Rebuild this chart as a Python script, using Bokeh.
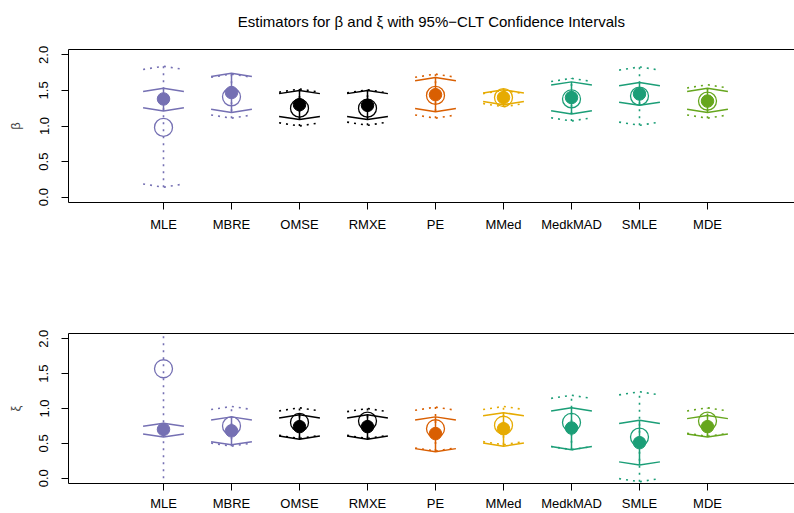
from bokeh.plotting import figure
from bokeh.models import Range1d, FixedTicker, LinearAxis, ColumnDataSource, NumeralTickFormatter
from bokeh.layouts import column
from bokeh.embed import file_html
from bokeh.resources import INLINE

# ---- data ----
estimators = ["MLE", "MBRE", "OMSE", "RMXE", "PE", "MMed", "MedkMAD", "SMLE", "MDE"]
positions = [1, 2, 3, 4, 5, 6, 7, 8, 9]

beta_est = [1.38, 1.47, 1.30, 1.29, 1.44, 1.40, 1.40, 1.45, 1.35]
beta_alt = [0.98, 1.41, 1.25, 1.25, 1.43, 1.40, 1.38, 1.42, 1.35]
beta_lo = [1.21, 1.19, 1.09, 1.09, 1.20, 1.30, 1.17, 1.29, 1.19]
beta_hi = [1.53, 1.74, 1.50, 1.50, 1.68, 1.51, 1.62, 1.61, 1.53]
beta_lo2 = [0.14, 1.11, 1.00, 1.01, 1.11, 1.27, 1.07, 1.01, 1.11]
beta_hi2 = [1.84, 1.73, 1.52, 1.51, 1.73, 1.50, 1.67, 1.83, 1.58]

xi_est = [0.70, 0.68, 0.74, 0.74, 0.64, 0.71, 0.72, 0.51, 0.74]
xi_alt = [1.57, 0.75, 0.80, 0.82, 0.71, 0.76, 0.80, 0.59, 0.82]
xi_lo = [0.59, 0.48, 0.56, 0.56, 0.38, 0.46, 0.41, 0.19, 0.59]
xi_hi = [0.79, 0.88, 0.91, 0.91, 0.88, 0.94, 1.01, 0.83, 0.90]
xi_lo2 = [-0.60, 0.46, 0.57, 0.57, 0.39, 0.48, 0.41, -0.05, 0.60]
xi_hi2 = [3.00, 1.03, 1.01, 1.00, 1.02, 1.03, 1.19, 1.24, 1.01]

y_ticks = [0.0, 0.5, 1.0, 1.5, 2.0]
title_text = "Estimators for \u03b2 and \u03be with 95%\u2212CLT Confidence Intervals"

# ---- styles ----
colors = ["#7570B3", "#7570B3", "#000000", "#000000", "#D95F02",
          "#E6AB02", "#1B9E77", "#1B9E77", "#66A61E"]
FONT = "Liberation Sans"
HW = 0.3     # half width of arrow heads (x units)
DY = 0.045   # drop of arrow heads (y units)
X0 = 1 - 95 / 68
X1 = X0 + 726 / 68
Y0, Y1 = -0.075, 2.075


def heads(xv, bv, sign):
    xs = [[x - HW, x, x + HW] for x in xv]
    ys = [[b - sign * DY, b, b - sign * DY] for b in bv]
    return xs, ys


def panel(est, alt, lo, hi, lo2, hi2, ylab, height, btop, bbot, lab_standoff, title=None):
    p = figure(width=794, height=height, output_backend="svg", toolbar_location=None,
               x_range=Range1d(X0, X1), y_range=Range1d(Y0, Y1),
               x_axis_location=None, y_axis_location=None,
               min_border_left=68, min_border_right=0,
               min_border_top=btop, min_border_bottom=bbot)
    p.outline_line_color = None
    p.xgrid.visible = False
    p.ygrid.visible = False
    p.background_fill_color = "white"
    p.border_fill_color = "white"

    # bottom axis
    xa = LinearAxis(ticker=FixedTicker(ticks=positions))
    xa.major_label_overrides = {pos: name for pos, name in zip(positions, estimators)}
    xa.major_tick_out = 7
    xa.major_tick_in = 0
    xa.minor_tick_out = 0
    xa.minor_tick_in = 0
    xa.major_label_standoff = lab_standoff
    xa.major_label_text_font = FONT
    xa.major_label_text_font_size = "13px"
    xa.major_label_text_color = "black"
    xa.axis_line_color = "black"
    xa.major_tick_line_color = "black"
    p.add_layout(xa, "below")

    # left axis
    ya = LinearAxis(ticker=FixedTicker(ticks=y_ticks), formatter=NumeralTickFormatter(format="0.0"))
    ya.axis_label = ylab
    ya.axis_label_text_font = FONT
    ya.axis_label_text_font_size = "13px"
    ya.axis_label_text_font_style = "normal"
    ya.axis_label_standoff = 14
    ya.major_label_orientation = "parallel"
    ya.major_tick_out = 7
    ya.major_tick_in = 0
    ya.minor_tick_out = 0
    ya.minor_tick_in = 0
    ya.major_label_standoff = 13
    ya.major_label_text_font = FONT
    ya.major_label_text_font_size = "13px"
    ya.major_label_text_color = "black"
    ya.axis_line_color = "black"
    p.add_layout(ya, "left")

    # top box line (carries the main title as its label in the upper panel)
    ta = LinearAxis(ticker=FixedTicker(ticks=[]))
    ta.major_tick_out = 0
    ta.major_tick_in = 0
    ta.minor_tick_out = 0
    ta.minor_tick_in = 0
    ta.major_label_standoff = 0
    ta.major_label_text_font_size = "0px"
    ta.axis_line_color = "black"
    if title:
        ta.axis_label = title
        ta.axis_label_standoff = 20
        ta.axis_label_text_font = FONT
        ta.axis_label_text_font_size = "15px"
        ta.axis_label_text_font_style = "normal"
        ta.axis_label_text_color = "black"
    p.add_layout(ta, "above")

    # dotted intervals
    dsrc = ColumnDataSource(dict(x=positions, lo=lo2, hi=hi2, c=colors))
    p.segment(x0="x", y0="lo", x1="x", y1="hi", source=dsrc, line_color="c",
              line_width=1.6, line_dash="2 5")
    for bound, sgn in ((hi2, 1), (lo2, -1)):
        xs, ys = heads(positions, bound, sgn)
        p.multi_line(xs=xs, ys=ys, line_color=colors, line_width=1.6, line_dash="2 5")

    # solid intervals
    ssrc = ColumnDataSource(dict(x=positions, lo=lo, hi=hi, c=colors))
    p.segment(x0="x", y0="lo", x1="x", y1="hi", source=ssrc, line_color="c", line_width=1.5)
    for bound, sgn in ((hi, 1), (lo, -1)):
        xs, ys = heads(positions, bound, sgn)
        p.multi_line(xs=xs, ys=ys, line_color=colors, line_width=1.5)

    # open and filled points
    psrc = ColumnDataSource(dict(x=positions, est=est, alt=alt, c=colors))
    p.scatter(x="x", y="alt", source=psrc, size=18, fill_color=None, line_color="c", line_width=1.3)
    p.scatter(x="x", y="est", source=psrc, size=12.5, fill_color="c", line_color="c", line_width=1)
    return p


p1 = panel(beta_est, beta_alt, beta_lo, beta_hi, beta_lo2, beta_hi2, "\u03b2", 252, 49, 50, 7,
           title=title_text)
p2 = panel(xi_est, xi_alt, xi_lo, xi_hi, xi_lo2, xi_hi2, "\u03be", 261, 81, 27, 5)

layout = column(p1, p2, spacing=0)
open("out.html", "w").write(file_html(layout, INLINE))
